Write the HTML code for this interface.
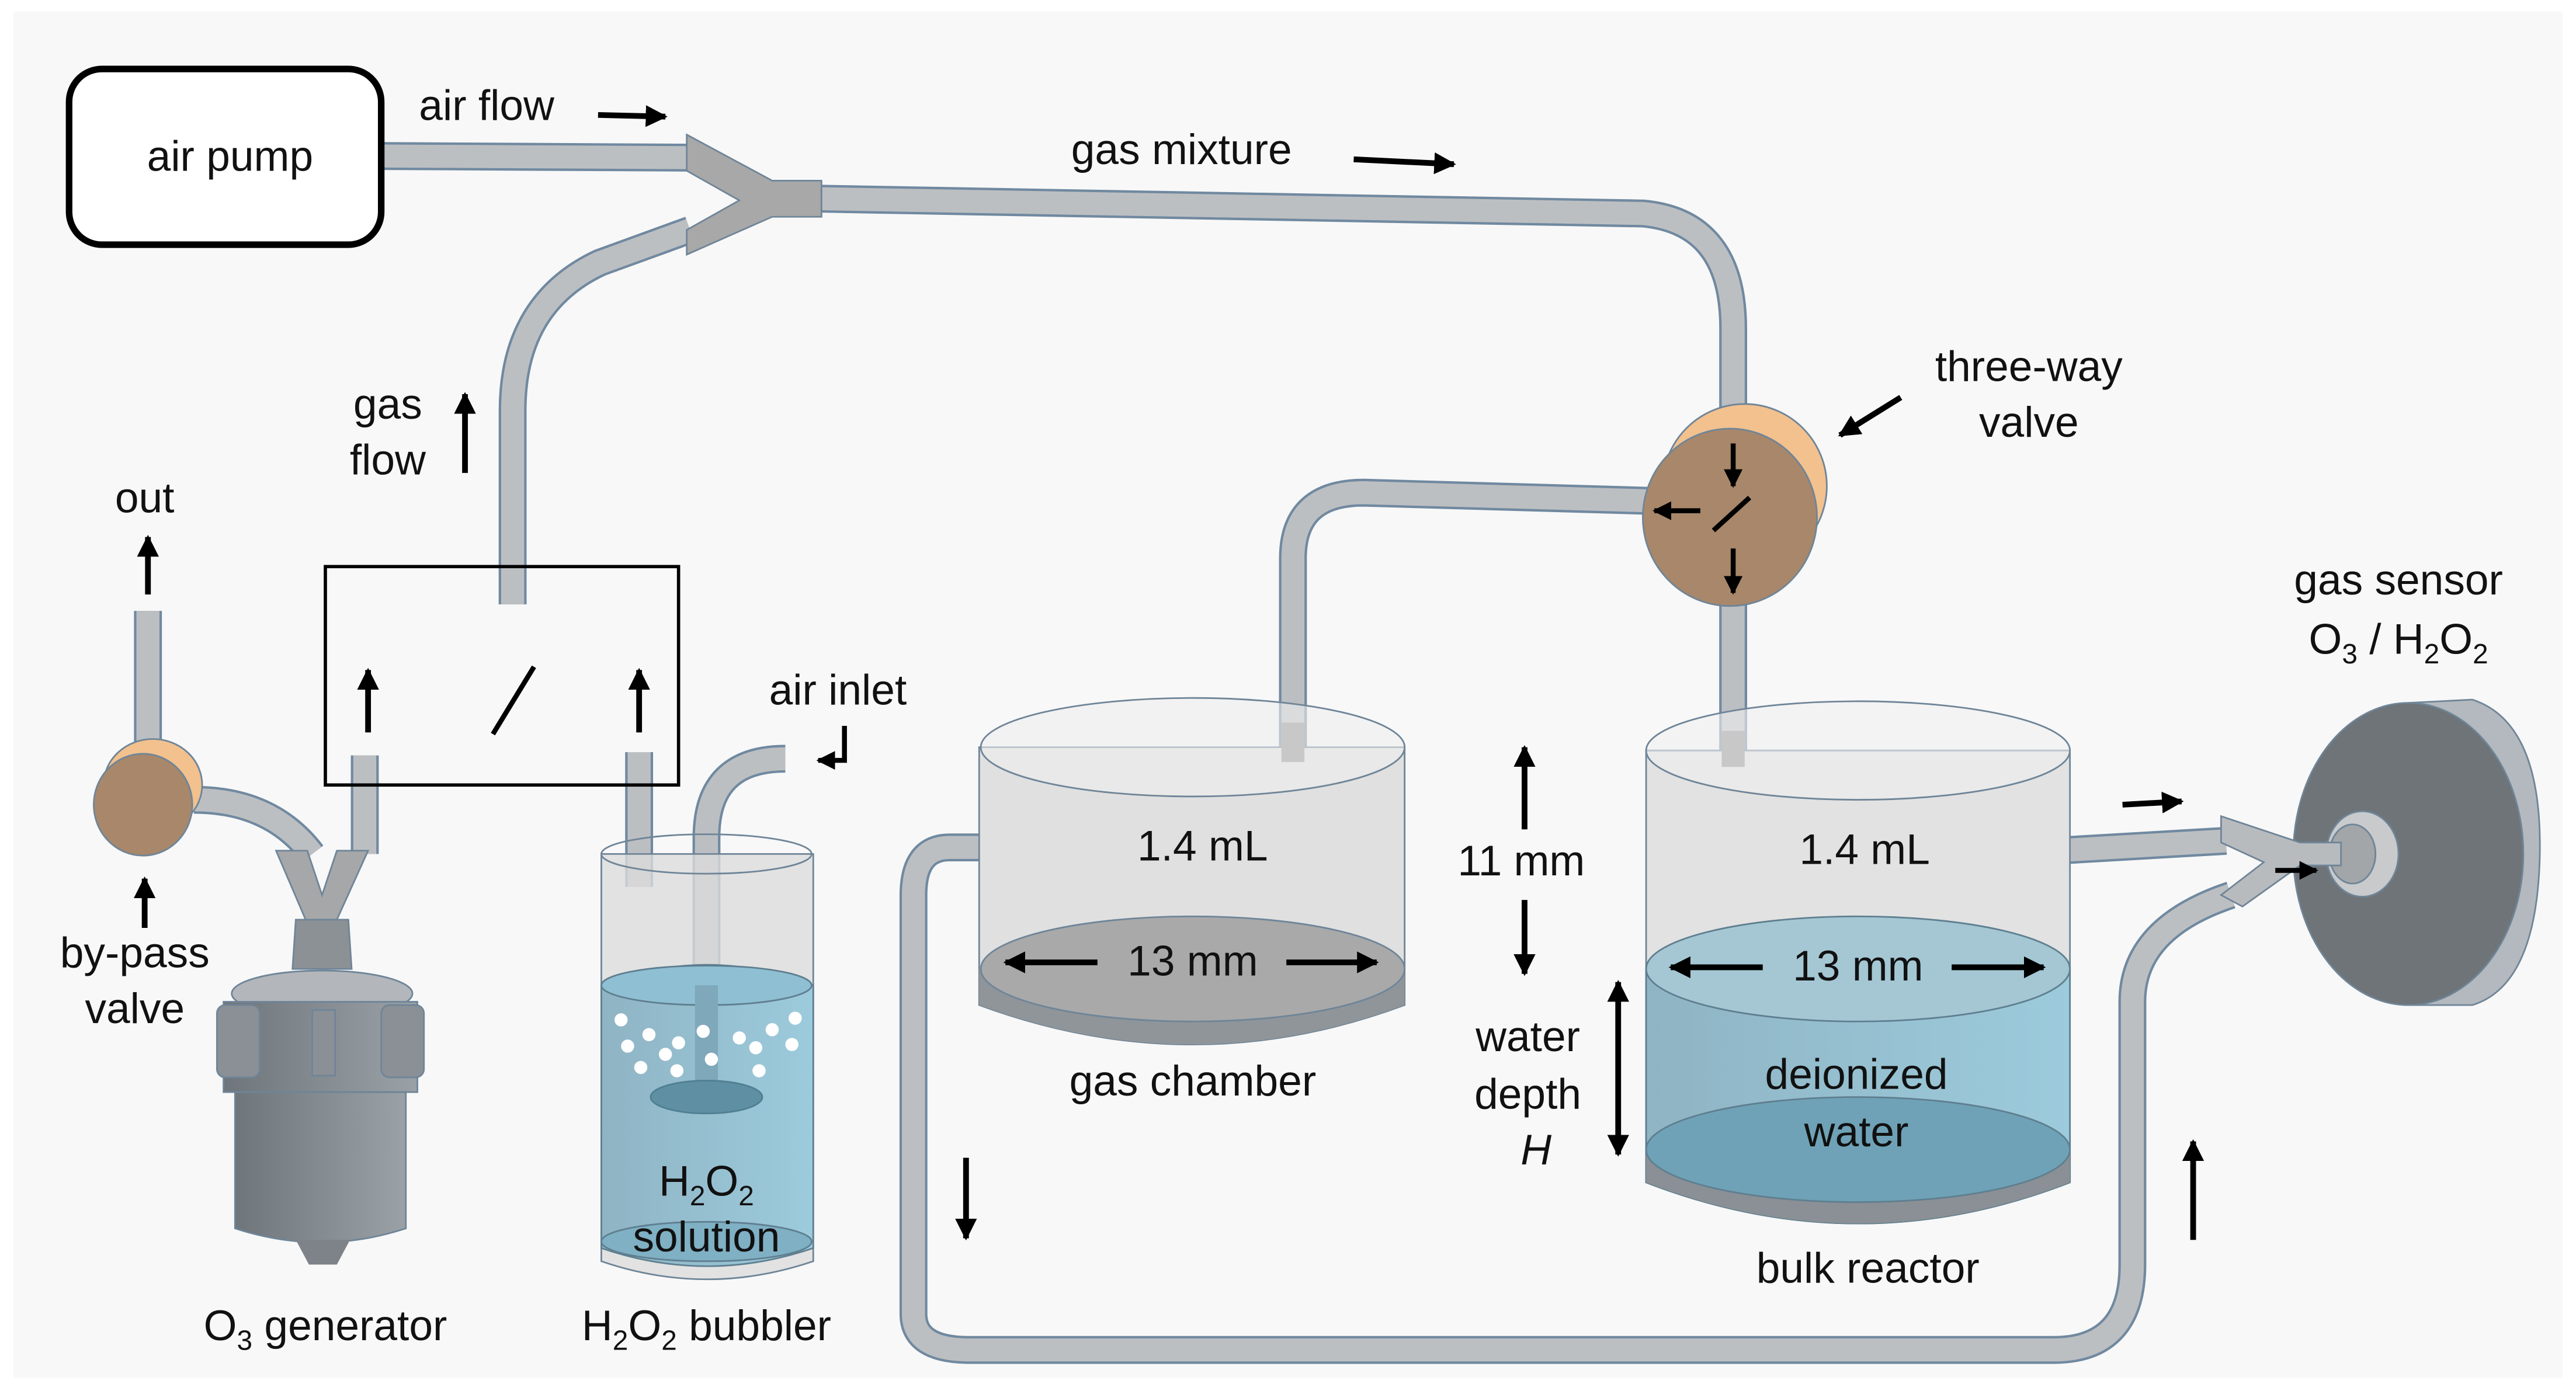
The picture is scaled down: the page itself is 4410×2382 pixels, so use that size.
<!DOCTYPE html>
<html><head><meta charset="utf-8"><style>
html,body{margin:0;padding:0;background:#fff;}
svg{display:block;}
text{font-family:"Liberation Sans",Arial,sans-serif;fill:#111;}
</style></head><body>
<svg width="4410" height="2382" viewBox="0 0 1568 847" xmlns="http://www.w3.org/2000/svg">
<defs>
<marker id="ah" viewBox="0 0 10 10" refX="9" refY="5" markerWidth="3.8" markerHeight="3.8" orient="auto"><path d="M0,0 L10,5 L0,10 z" fill="#000"/></marker>
<linearGradient id="gw" x1="0" x2="1"><stop offset="0" stop-color="#8fb4c4"/><stop offset="1" stop-color="#9ccbdc"/></linearGradient>
<linearGradient id="gen" x1="0" x2="1"><stop offset="0" stop-color="#6e757b"/><stop offset="1" stop-color="#9aa1a7"/></linearGradient>
</defs>
<rect x="0" y="0" width="1568" height="847" fill="#fff"/>
<rect x="8" y="7" width="1552" height="832" fill="#f8f8f8"/>

<g fill="none" stroke-linecap="butt" stroke-linejoin="round">
 <g stroke="#7089a0" stroke-width="17">
  <path d="M232,95 L420,96"/>
  <path d="M500,121 L1000,130 Q1055,135 1055,200 L1055,262"/>
  <path d="M420,140 L365,160 Q312,185 312,250 L312,368"/>
  <path d="M787,462 L787,340 Q787,300 830,300 L1005,305"/>
  <path d="M1055,365 L1055,462"/>
  <path d="M600,516 L578,516 Q556,516 556,545 L556,800 Q556,822 590,822 L1250,822 Q1298,822 1298,770 L1298,610 Q1298,565 1358,545"/>
  <path d="M1252,518 L1355,512"/>
  <path d="M90,372 L90,458"/>
  <path d="M222,460 L222,520"/>
  <path d="M389,458 L389,540"/>
  <path d="M430,648 L430,510 Q430,462 478,462"/>
  <path d="M118,487 Q165,487 190,520"/>
 </g>
 <g stroke="#bcbfc2" stroke-width="14">
  <path d="M232,95 L420,96"/>
  <path d="M500,121 L1000,130 Q1055,135 1055,200 L1055,262"/>
  <path d="M420,140 L365,160 Q312,185 312,250 L312,368"/>
  <path d="M787,462 L787,340 Q787,300 830,300 L1005,305"/>
  <path d="M1055,365 L1055,462"/>
  <path d="M600,516 L578,516 Q556,516 556,545 L556,800 Q556,822 590,822 L1250,822 Q1298,822 1298,770 L1298,610 Q1298,565 1358,545"/>
  <path d="M1252,518 L1355,512"/>
  <path d="M90,372 L90,458"/>
  <path d="M222,460 L222,520"/>
  <path d="M389,458 L389,540"/>
  <path d="M430,648 L430,510 Q430,462 478,462"/>
  <path d="M118,487 Q165,487 190,520"/>
 </g>
</g>

<rect x="42" y="42" width="190" height="107" rx="20" fill="#fff" stroke="#000" stroke-width="4"/>
<text x="140" y="104" font-size="26" text-anchor="middle">air pump</text>
<text x="255" y="73" font-size="26">air flow</text>
<line x1="364" y1="70" x2="405" y2="71" stroke="#000" stroke-width="3.5" marker-end="url(#ah)"/>

<polygon points="418,82 470,110 500,110 500,132 470,132 418,155 418,140 450,122 418,104" fill="#a8a8a8" stroke="#6f8598" stroke-width="1"/>

<text x="652" y="100" font-size="26">gas mixture</text>
<line x1="824" y1="97" x2="885" y2="100" stroke="#000" stroke-width="3.5" marker-end="url(#ah)"/>

<text x="236" y="255" font-size="26" text-anchor="middle">gas</text>
<text x="236" y="289" font-size="26" text-anchor="middle">flow</text>
<line x1="283" y1="288" x2="283" y2="240" stroke="#000" stroke-width="3.5" marker-end="url(#ah)"/>

<rect x="198" y="345" width="215" height="133" fill="none" stroke="#000" stroke-width="2"/>
<line x1="300" y1="447" x2="325" y2="406" stroke="#000" stroke-width="3"/>
<line x1="224" y1="446" x2="224" y2="408" stroke="#000" stroke-width="3.5" marker-end="url(#ah)"/>
<line x1="389" y1="446" x2="389" y2="408" stroke="#000" stroke-width="3.5" marker-end="url(#ah)"/>

<ellipse cx="93" cy="478" rx="30" ry="28" fill="#f2c18e" stroke="#6f8598" stroke-width="1"/>
<ellipse cx="87" cy="490" rx="30" ry="31" fill="#a8876a" stroke="#6f8598" stroke-width="1"/>
<text x="88" y="312" font-size="26" text-anchor="middle">out</text>
<line x1="90" y1="362" x2="90" y2="327" stroke="#000" stroke-width="3.5" marker-end="url(#ah)"/>
<line x1="88" y1="565" x2="88" y2="535" stroke="#000" stroke-width="3.5" marker-end="url(#ah)"/>
<text x="82" y="589" font-size="26" text-anchor="middle">by-pass</text>
<text x="82" y="623" font-size="26" text-anchor="middle">valve</text>

<polygon points="168,518 187,518 196,545 205,518 224,518 205,560 186,560" fill="#a5a7a9" stroke="#6f8598" stroke-width="1"/>
<path d="M180,560 L212,560 L214,590 L178,590 z" fill="#8c9196" stroke="#6f8598" stroke-width="1"/>
<ellipse cx="196" cy="605" rx="55" ry="14" fill="#b3b7bb" stroke="#6f8598"/>
<rect x="136" y="610" width="118" height="55" fill="url(#gen)" stroke="#6f8598"/>
<path d="M143,665 L143,748 Q195,765 247,748 L247,665 z" fill="url(#gen)" stroke="#6f8598"/>
<rect x="132" y="612" width="26" height="44" rx="5" fill="#8a9096" stroke="#6f8598"/>
<rect x="232" y="612" width="26" height="44" rx="5" fill="#8a9096" stroke="#6f8598"/>
<rect x="190" y="615" width="14" height="40" fill="#8a9096" stroke="#6f8598"/>
<polygon points="180,755 188,770 205,770 213,755" fill="#7d8388"/>
<text x="198" y="816" font-size="26" text-anchor="middle">O<tspan font-size="17" dy="6">3</tspan><tspan dy="-6"> generator</tspan></text>

<path d="M366,520 L366,768 Q430,790 495,768 L495,520 z" fill="#dcdcdc" fill-opacity="0.8" stroke="#6f8598"/>
<path d="M366,600 L366,760 Q430,782 495,760 L495,600 Q430,575 366,600 z" fill="url(#gw)" stroke="#5f7f90"/>
<ellipse cx="430" cy="600" rx="64" ry="12" fill="#8fbfd2" stroke="#5f7f90"/>
<ellipse cx="430" cy="756" rx="64" ry="12" fill="#7fb0c4" stroke="#5f7f90"/>
<ellipse cx="430" cy="520" rx="64" ry="12" fill="none" stroke="#6f8598"/>
<rect x="423" y="600" width="14" height="60" fill="#7fa8ba"/>
<ellipse cx="430" cy="668" rx="34" ry="10" fill="#5e8fa3" stroke="#4f7f92"/>
<g fill="#fff">
<circle cx="378" cy="621" r="4"/><circle cx="395" cy="630" r="4"/><circle cx="413" cy="635" r="4"/><circle cx="428" cy="628" r="4"/><circle cx="450" cy="632" r="4"/><circle cx="470" cy="627" r="4"/><circle cx="484" cy="620" r="4"/>
<circle cx="382" cy="637" r="4"/><circle cx="405" cy="642" r="4"/><circle cx="433" cy="645" r="4"/><circle cx="460" cy="638" r="4"/><circle cx="482" cy="636" r="4"/><circle cx="390" cy="650" r="4"/><circle cx="412" cy="652" r="4"/><circle cx="462" cy="652" r="4"/>
</g>
<text x="430" y="728" font-size="26" text-anchor="middle">H<tspan font-size="17" dy="6">2</tspan><tspan dy="-6">O</tspan><tspan font-size="17" dy="6">2</tspan></text>
<text x="430" y="762" font-size="26" text-anchor="middle">solution</text>
<text x="430" y="816" font-size="26" text-anchor="middle">H<tspan font-size="17" dy="6">2</tspan><tspan dy="-6">O</tspan><tspan font-size="17" dy="6">2</tspan><tspan dy="-6"> bubbler</tspan></text>
<text x="510" y="429" font-size="26" text-anchor="middle">air inlet</text>
<path d="M514,442 L514,463 L498,463" fill="none" stroke="#000" stroke-width="3" marker-end="url(#ah)"/>

<path d="M596,455 L596,612 Q726,660 855,612 L855,455 z" fill="#e0e0e0" stroke="#6f8598"/>
<path d="M596,590 L596,612 Q726,660 855,612 L855,590 z" fill="#8f9599"/>
<ellipse cx="726" cy="590" rx="129" ry="32" fill="#a9a9a9" stroke="#6f8598"/>
<ellipse cx="726" cy="455" rx="129" ry="30" fill="#eeeeee" fill-opacity="0.6" stroke="#6f8598"/>
<rect x="780" y="440" width="14" height="24" fill="#c8c8c8"/>
<text x="732" y="524" font-size="26" text-anchor="middle">1.4 mL</text>
<text x="726" y="594" font-size="26" text-anchor="middle">13 mm</text>
<line x1="668" y1="586" x2="612" y2="586" stroke="#000" stroke-width="3.5" marker-end="url(#ah)"/>
<line x1="783" y1="586" x2="838" y2="586" stroke="#000" stroke-width="3.5" marker-end="url(#ah)"/>
<text x="726" y="667" font-size="26" text-anchor="middle">gas chamber</text>
<line x1="588" y1="705" x2="588" y2="754" stroke="#000" stroke-width="3.5" marker-end="url(#ah)"/>

<ellipse cx="1062" cy="296" rx="50" ry="50" fill="#f2c18e" stroke="#6f8598"/>
<ellipse cx="1053" cy="315" rx="53" ry="54" fill="#a8876a" stroke="#6f8598"/>
<line x1="1055" y1="270" x2="1055" y2="296" stroke="#000" stroke-width="3" marker-end="url(#ah)"/>
<line x1="1035" y1="311" x2="1007" y2="311" stroke="#000" stroke-width="3" marker-end="url(#ah)"/>
<line x1="1043" y1="323" x2="1065" y2="303" stroke="#000" stroke-width="3"/>
<line x1="1055" y1="334" x2="1055" y2="361" stroke="#000" stroke-width="3" marker-end="url(#ah)"/>
<text x="1235" y="232" font-size="26" text-anchor="middle">three-way</text>
<text x="1235" y="266" font-size="26" text-anchor="middle">valve</text>
<line x1="1157" y1="242" x2="1120" y2="265" stroke="#000" stroke-width="3.5" marker-end="url(#ah)"/>

<path d="M1002,457 L1002,720 Q1131,770 1260,720 L1260,457 z" fill="#e2e2e2" stroke="#6f8598"/>
<path d="M1002,590 L1002,720 Q1131,770 1260,720 L1260,590 z" fill="url(#gw)" stroke="#5f7f90"/>
<path d="M1002,700 L1002,720 Q1131,770 1260,720 L1260,700 z" fill="#8a9095"/>
<ellipse cx="1131" cy="700" rx="129" ry="32" fill="#6fa2b6" stroke="#5f7f90"/>
<ellipse cx="1131" cy="590" rx="129" ry="32" fill="#a5c7d4" stroke="#5f7f90"/>
<ellipse cx="1131" cy="457" rx="129" ry="30" fill="#f0f0f0" fill-opacity="0.6" stroke="#6f8598"/>
<rect x="1048" y="445" width="14" height="22" fill="#c8c8c8"/>
<text x="1135" y="526" font-size="26" text-anchor="middle">1.4 mL</text>
<text x="1131" y="597" font-size="26" text-anchor="middle">13 mm</text>
<line x1="1073" y1="589" x2="1017" y2="589" stroke="#000" stroke-width="3.5" marker-end="url(#ah)"/>
<line x1="1188" y1="589" x2="1244" y2="589" stroke="#000" stroke-width="3.5" marker-end="url(#ah)"/>
<text x="1130" y="663" font-size="26" text-anchor="middle">deionized</text>
<text x="1130" y="698" font-size="26" text-anchor="middle">water</text>
<text x="1137" y="781" font-size="26" text-anchor="middle">bulk reactor</text>

<text x="926" y="533" font-size="26" text-anchor="middle">11 mm</text>
<line x1="928" y1="505" x2="928" y2="455" stroke="#000" stroke-width="3.5" marker-end="url(#ah)"/>
<line x1="928" y1="548" x2="928" y2="593" stroke="#000" stroke-width="3.5" marker-end="url(#ah)"/>
<text x="930" y="640" font-size="26" text-anchor="middle">water</text>
<text x="930" y="675" font-size="26" text-anchor="middle">depth</text>
<text x="935" y="709" font-size="26" text-anchor="middle" font-style="italic">H</text>
<line x1="985" y1="650" x2="985" y2="598" stroke="#000" stroke-width="3.5" marker-end="url(#ah)"/>
<line x1="985" y1="650" x2="985" y2="703" stroke="#000" stroke-width="3.5" marker-end="url(#ah)"/>

<path d="M1466,428 L1505,426 Q1548,440 1546,522 Q1544,600 1505,612 L1466,612 z" fill="#b3b9be" stroke="#6f8598"/>
<ellipse cx="1466" cy="520" rx="70" ry="92" fill="#6e7478" stroke="#6f8598"/>
<ellipse cx="1438" cy="520" rx="22" ry="26" fill="#c8cacc" stroke="#6f8598"/>
<ellipse cx="1432" cy="520" rx="14" ry="18" fill="#a3a6a8" stroke="#6f8598"/>
<polygon points="1352,497 1400,513 1425,513 1425,527 1400,527 1365,552 1352,545 1378,525 1352,513" fill="#b8bbbe" stroke="#6f8598"/>
<line x1="1292" y1="490" x2="1328" y2="488" stroke="#000" stroke-width="3.5" marker-end="url(#ah)"/>
<line x1="1385" y1="530" x2="1410" y2="530" stroke="#000" stroke-width="3" marker-end="url(#ah)"/>
<line x1="1335" y1="755" x2="1335" y2="695" stroke="#000" stroke-width="3.5" marker-end="url(#ah)"/>
<text x="1460" y="362" font-size="26" text-anchor="middle">gas sensor</text>
<text x="1460" y="398" font-size="26" text-anchor="middle">O<tspan font-size="17" dy="6">3</tspan><tspan dy="-6"> / H</tspan><tspan font-size="17" dy="6">2</tspan><tspan dy="-6">O</tspan><tspan font-size="17" dy="6">2</tspan></text>
</svg>
</body></html>
